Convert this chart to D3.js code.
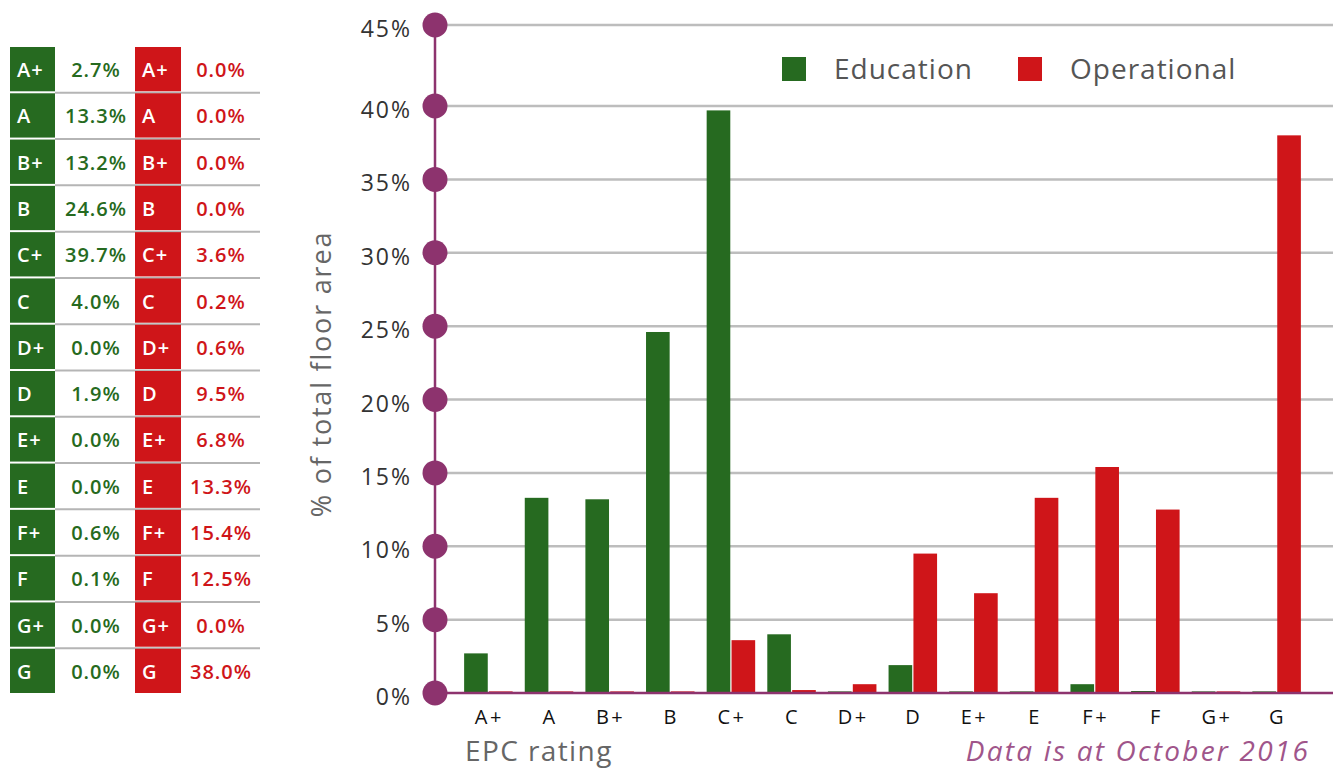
<!DOCTYPE html>
<html>
<head>
<meta charset="utf-8">
<script src="https://cdn.jsdelivr.net/npm/d3@7"></script>
<style>
  body { margin: 0; background: #fff; }
  svg { display: block; font-family: "Open Sans", Lato, sans-serif; }
</style>
</head>
<body>
<svg id="chart" width="1333" height="769"></svg>
<script>
// EPC ratings and share of total floor area (%)
var ratings = ["A+", "A", "B+", "B", "C+", "C", "D+", "D", "E+", "E", "F+", "F", "G+", "G"];
var education = [2.7, 13.3, 13.2, 24.6, 39.7, 4.0, 0.0, 1.9, 0.0, 0.0, 0.6, 0.1, 0.0, 0.0];
var operational = [0.0, 0.0, 0.0, 0.0, 3.6, 0.2, 0.6, 9.5, 6.8, 13.3, 15.4, 12.5, 0.0, 38.0];
var yTicks = [0, 5, 10, 15, 20, 25, 30, 35, 40, 45];
var seriesNames = ["Education", "Operational"];

var green = "#266a20", red = "#cf1519", purple = "#8d336e";

var svg = d3.select("#chart");

// ---- summary table on the left ----
var rowY = d3.scaleBand().domain(ratings).range([47, 695]).paddingInner(0);
var table = svg.append("g").attr("font-size", 20).attr("font-weight", 600).attr("letter-spacing", 1);

ratings.forEach(function (r, i) {
    var y0 = rowY(r), h = rowY.bandwidth();
    // separator under each row except last
    if (i < ratings.length - 1) {
        table.append("line").attr("x1", 55).attr("x2", 260)
            .attr("y1", y0 + h - 0.5).attr("y2", y0 + h - 0.5)
            .attr("stroke", "#b5b5b5").attr("stroke-width", 2);
    }
    table.append("rect").attr("x", 10).attr("y", y0).attr("width", 45).attr("height", h - 2).attr("fill", green);
    table.append("rect").attr("x", 135).attr("y", y0).attr("width", 46).attr("height", h - 2).attr("fill", red);
    var cy = y0 + h / 2 + 7;
    table.append("text").attr("x", 17).attr("y", cy).attr("fill", "#fff").text(r);
    table.append("text").attr("x", 142).attr("y", cy).attr("fill", "#fff").text(r);
    table.append("text").attr("x", 96).attr("y", cy).attr("text-anchor", "middle").attr("fill", green)
        .text(education[i].toFixed(1) + "%");
    table.append("text").attr("x", 221).attr("y", cy).attr("text-anchor", "middle").attr("fill", red)
        .text(operational[i].toFixed(1) + "%");
});

// ---- bar chart ----
var x0 = 435, x1 = 1333, yBot = 693;
var x = d3.scaleBand().domain(ratings).range([452, 1313]).paddingInner(0.2).paddingOuter(0.2);
var xs = d3.scaleBand().domain(seriesNames).range([0, x.bandwidth()]).paddingInner(0.05);
// the original's top tick sits a little higher than the even spacing
var y = d3.scaleLinear().domain([0, 40, 45]).range([yBot, 106, 25]);

// gridlines
svg.append("g").selectAll("line").data(yTicks.slice(1)).join("line")
    .attr("x1", x0).attr("x2", x1)
    .attr("y1", function (d) { return y(d); }).attr("y2", function (d) { return y(d); })
    .attr("stroke", "#bdbdbd").attr("stroke-width", 2.5);

// tick labels
svg.append("g").selectAll("text").data(yTicks).join("text")
    .attr("x", 412).attr("y", function (d) { return y(d) + 12; })
    .attr("text-anchor", "end").attr("font-size", 23).attr("letter-spacing", 2).attr("fill", "#333")
    .text(function (d) { return d + "%"; });

// bars
var bars = svg.append("g");
[education, operational].forEach(function (vals, si) {
    bars.selectAll("rect.s" + si).data(ratings).join("rect")
        .attr("class", "s" + si)
        .attr("x", function (d) { return x(d) + xs(seriesNames[si]); })
        .attr("width", xs.bandwidth())
        .attr("y", function (d, i) { return Math.min(y(vals[i]), yBot - 2); })
        .attr("height", function (d, i) { return Math.max(yBot - y(vals[i]), 2); })
        .attr("fill", si === 0 ? green : red)
        .attr("opacity", function (d, i) { return vals[i] < 0.05 ? 0.6 : 1; });
});

// x axis line
svg.append("line").attr("x1", x0).attr("x2", x1).attr("y1", yBot).attr("y2", yBot)
    .attr("stroke", purple).attr("stroke-width", 2.5);
// y axis line with dots
svg.append("line").attr("x1", x0).attr("x2", x0).attr("y1", y(45)).attr("y2", yBot)
    .attr("stroke", purple).attr("stroke-width", 2.5);
svg.append("g").selectAll("circle").data(yTicks).join("circle")
    .attr("cx", x0).attr("cy", function (d) { return y(d); }).attr("r", 12.5).attr("fill", purple);

// x labels
svg.append("g").selectAll("text").data(ratings).join("text")
    .attr("x", function (d) { return x(d) + x.bandwidth() / 2 + 1; }).attr("y", 724)
    .attr("text-anchor", "middle").attr("font-size", 20).attr("letter-spacing", 2.5).attr("fill", "#111")
    .text(function (d) { return d; });

// axis titles
svg.append("text").attr("transform", "translate(331,374) rotate(-90)")
    .attr("text-anchor", "middle").attr("font-size", 27).attr("letter-spacing", 1.8).attr("fill", "#666")
    .text("% of total floor area");
svg.append("text").attr("x", 465).attr("y", 761).attr("font-size", 28).attr("letter-spacing", 1.4)
    .attr("fill", "#666").text("EPC rating");
svg.append("text").attr("x", 1310).attr("y", 761).attr("text-anchor", "end").attr("font-size", 28)
    .attr("letter-spacing", 2.2).attr("font-style", "italic").attr("fill", "#a0558a").text("Data is at October 2016");

// legend
var legend = svg.append("g");
[[782, green, "Education"], [1018, red, "Operational"]].forEach(function (l) {
    legend.append("rect").attr("x", l[0]).attr("y", 57).attr("width", 24).attr("height", 24).attr("fill", l[1]);
    legend.append("text").attr("x", l[0] + 52).attr("y", 79).attr("font-size", 28).attr("letter-spacing", 1)
        .attr("fill", "#555").text(l[2]);
});
</script>
</body>
</html>
